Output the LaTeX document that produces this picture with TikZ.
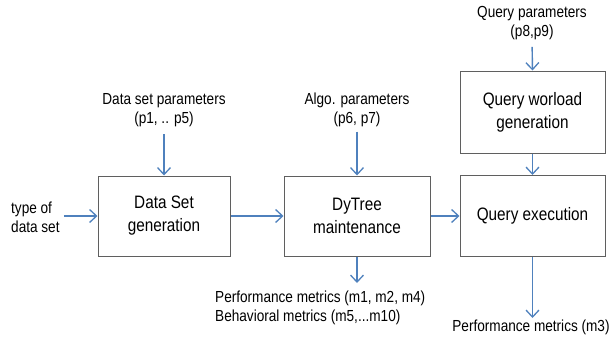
\documentclass[tikz,border=0pt]{standalone}
\usepackage{fontspec}
\setmainfont{Liberation Sans}[FakeStretch=0.85]
\usetikzlibrary{arrows.meta}
\definecolor{arrblue}{RGB}{79,129,189}
\definecolor{boxgray}{RGB}{95,95,95}
\tikzset{
  box/.style={draw=boxgray, line width=1pt, fill=white, inner sep=0pt, align=center,
    font=\fontsize{18}{23}\selectfont},
  lbl/.style={inner sep=0pt, align=center, font=\fontsize{16}{19}\selectfont},
  arr/.style={draw=arrblue, line width=1.4pt,
    -{Straight Barb[length=7pt,width=13pt,line width=1.3pt]}},
}
\begin{document}
\begin{tikzpicture}[x=1pt,y=-1pt]
\useasboundingbox (0,0) rectangle (609,337);
% boxes
\node[box, minimum width=132pt, minimum height=80pt] (b1) at (164,216) {Data Set\\generation};
\node[box, minimum width=146pt, minimum height=80pt] (b2) at (357,216) {DyTree\\maintenance};
\node[box, minimum width=145pt, minimum height=82pt] (b3) at (532.5,112) {Query worload\\generation};
\node[box, minimum width=145pt, minimum height=81pt] (b4) at (532.5,216) {Query execution};
% labels
\node[lbl] (p1) at (164,110.5) {Data set parameters\\(p1, .. p5)};
\node[lbl] (p2) at (357,109.5) {Algo. parameters\\(p6, p7)};
\node[lbl] (p3) at (532,23) {Query parameters\\(p8,p9)};
\node[lbl, align=left, anchor=west] (t) at (11,217) {type of\\data set};
\node[lbl, align=left, anchor=north west] (m1) at (215,291) {Performance metrics (m1, m2, m4)\\Behavioral metrics (m5,...m10)};
\node[lbl, anchor=north] (m2) at (531,320) {Performance metrics (m3)};
% connectors
\draw[arr, shorten <=7pt] (p1.south) -- (b1.north);
\draw[arr, shorten <=5pt] (p2.south) -- (b2.north);
\draw[arr, shorten <=7pt] (p3.south) -- (b3.north);
\draw[arr] (b3.south) -- (b4.north);
\draw[arr, shorten <=4pt] (t.east |- b1.west) -- (b1.west);
\draw[arr] (b1.east) -- (b2.west);
\draw[arr] (b2.east) -- (b4.west);
\coordinate (m1top) at (357,283);
\draw[arr] (b2.south) -- (m1top);
\draw[arr] (b4.south) -- (b4.south |- 0,318);
\end{tikzpicture}
\end{document}
